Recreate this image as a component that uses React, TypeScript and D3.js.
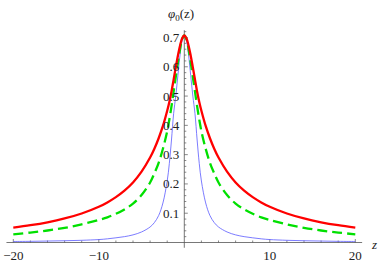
import React, { useEffect, useRef } from 'react';
import * as d3 from 'd3';

// sample positions along z (same for all three curves)
const zValues = [
  -20, -18, -16, -14, -12, -10, -9, -8, -7, -6, -5, -4, -3.5, -3, -2.5, -2, -1.75, -1.5, -1.25, -1, -0.75, -0.5, -0.25,
  0, 0.25, 0.5, 0.75, 1, 1.25, 1.5, 1.75, 2, 2.5, 3, 3.5, 4, 5, 6, 7, 8, 9, 10, 12, 14, 16, 18, 20,
];

// thick red curve
const redValues = [
  0.051, 0.059, 0.069, 0.082, 0.099, 0.122, 0.137, 0.155, 0.177, 0.205, 0.242, 0.29, 0.32, 0.356, 0.398, 0.45, 0.48, 0.515, 0.556, 0.598, 0.638, 0.672, 0.697,
  0.707, 0.697, 0.672, 0.638, 0.598, 0.556, 0.515, 0.48, 0.45, 0.398, 0.356, 0.32, 0.29, 0.242, 0.205, 0.177, 0.155, 0.137, 0.122, 0.099, 0.082, 0.069, 0.059, 0.051,
];

// dashed green curve
const greenValues = [
  0.028, 0.034, 0.041, 0.05, 0.062, 0.077, 0.086, 0.098, 0.113, 0.133, 0.162, 0.205, 0.236, 0.272, 0.32, 0.38, 0.42, 0.465, 0.515, 0.565, 0.615, 0.66, 0.695,
  0.707, 0.695, 0.66, 0.615, 0.565, 0.515, 0.465, 0.42, 0.38, 0.32, 0.272, 0.236, 0.205, 0.162, 0.133, 0.113, 0.098, 0.086, 0.077, 0.062, 0.05, 0.041, 0.034, 0.028,
];

// thin blue curve
const blueValues = [
  0.0035, 0.004, 0.005, 0.006, 0.0075, 0.01, 0.0125, 0.016, 0.02, 0.026, 0.036, 0.053, 0.068, 0.092, 0.135, 0.21, 0.27, 0.35, 0.44, 0.5, 0.57, 0.64, 0.69,
  0.707, 0.69, 0.64, 0.57, 0.5, 0.44, 0.35, 0.27, 0.21, 0.135, 0.092, 0.068, 0.053, 0.036, 0.026, 0.02, 0.016, 0.0125, 0.01, 0.0075, 0.006, 0.005, 0.004, 0.0035,
];

const xTickValues = [-20, -10, 10, 20];
const xTickLabels = ['\u221220', '\u221210', '10', '20'];
const yTickValues = [0.1, 0.2, 0.3, 0.4, 0.5, 0.6, 0.7];
const yTickLabels = ['0.1', '0.2', '0.3', '0.4', '0.5', '0.6', '0.7'];

const App: React.FC = () => {
  const svgRef = useRef<SVGSVGElement | null>(null);

  useEffect(() => {
    const width = 382;
    const height = 264;
    const font = "'Liberation Serif', 'Times New Roman', serif";
    const axisColor = '#555';

    const svg = d3.select(svgRef.current).attr('width', width).attr('height', height);
    svg.selectAll('*').remove();

    const x = d3.scaleLinear().domain([-20, 20]).range([13.3, 355.3]);
    const y = d3.scaleLinear().domain([0, 0.7]).range([242.5, 37.5]);

    // axes lines
    svg
      .append('line')
      .attr('x1', x(-20.8))
      .attr('x2', x(20.8))
      .attr('y1', y(0))
      .attr('y2', y(0))
      .attr('stroke', axisColor)
      .attr('stroke-width', 0.8);
    svg
      .append('line')
      .attr('x1', x(0))
      .attr('x2', x(0))
      .attr('y1', y(-0.018))
      .attr('y2', y(0.725))
      .attr('stroke', axisColor)
      .attr('stroke-width', 0.8);

    // x ticks (minor every 2, major every 10), pointing up
    const xMinor = d3.range(-20, 21, 2).filter((v) => v !== 0);
    svg
      .append('g')
      .selectAll('line')
      .data(xMinor)
      .enter()
      .append('line')
      .attr('x1', (d) => x(d))
      .attr('x2', (d) => x(d))
      .attr('y1', y(0))
      .attr('y2', (d) => y(0) - (d % 10 === 0 ? 3.5 : 2))
      .attr('stroke', axisColor)
      .attr('stroke-width', 0.7);

    // y ticks (minor every 0.02), pointing right
    const yMinor = d3.range(1, 37).map((i) => i * 0.02);
    svg
      .append('g')
      .selectAll('line')
      .data(yMinor)
      .enter()
      .append('line')
      .attr('x1', x(0))
      .attr('x2', (_, i) => x(0) + ((i + 1) % 5 === 0 ? 3.5 : 2))
      .attr('y1', (d) => y(d))
      .attr('y2', (d) => y(d))
      .attr('stroke', axisColor)
      .attr('stroke-width', 0.7);

    const line = d3
      .line<number>()
      .x((_, i) => x(zValues[i]))
      .y((d) => y(d))
      .curve(d3.curveCatmullRom.alpha(0.5));

    svg
      .append('path')
      .attr('d', line(blueValues))
      .attr('fill', 'none')
      .attr('stroke', '#5a5aff')
      .attr('stroke-width', 0.8);

    svg
      .append('path')
      .attr('d', line(greenValues))
      .attr('fill', 'none')
      .attr('stroke', '#00e000')
      .attr('stroke-width', 2.3)
      .attr('stroke-dasharray', '10,5');

    svg
      .append('path')
      .attr('d', line(redValues))
      .attr('fill', 'none')
      .attr('stroke', '#ff0000')
      .attr('stroke-width', 2.3);

    // tick labels
    svg
      .append('g')
      .selectAll('text')
      .data(xTickValues)
      .enter()
      .append('text')
      .attr('x', (d) => x(d))
      .attr('y', 259.5)
      .attr('text-anchor', 'middle')
      .style('font-family', font)
      .style('font-size', '13px')
      .attr('fill', '#222')
      .text((_, i) => xTickLabels[i]);

    svg
      .append('g')
      .selectAll('text')
      .data(yTickValues)
      .enter()
      .append('text')
      .attr('x', x(0) - 5)
      .attr('y', (d) => y(d) + 4.5)
      .attr('text-anchor', 'end')
      .style('font-family', font)
      .style('font-size', '13px')
      .attr('fill', '#222')
      .text((_, i) => yTickLabels[i]);

    // axis labels
    svg
      .append('text')
      .attr('x', 372)
      .attr('y', 249)
      .style('font-family', font)
      .style('font-style', 'italic')
      .style('font-size', '13px')
      .attr('fill', '#222')
      .text('z');

    const yLabel = svg
      .append('text')
      .attr('x', 168)
      .attr('y', 18)
      .style('font-family', font)
      .style('font-size', '13px')
      .attr('fill', '#222');
    yLabel.append('tspan').style('font-style', 'italic').text('\u03c6');
    yLabel.append('tspan').style('font-size', '9px').attr('dy', 3).text('0');
    yLabel.append('tspan').attr('dy', -3).text('(z)');
  }, []);

  return <svg ref={svgRef} style={{ position: 'absolute', left: 0, top: 0 }}></svg>;
};

export default App;
